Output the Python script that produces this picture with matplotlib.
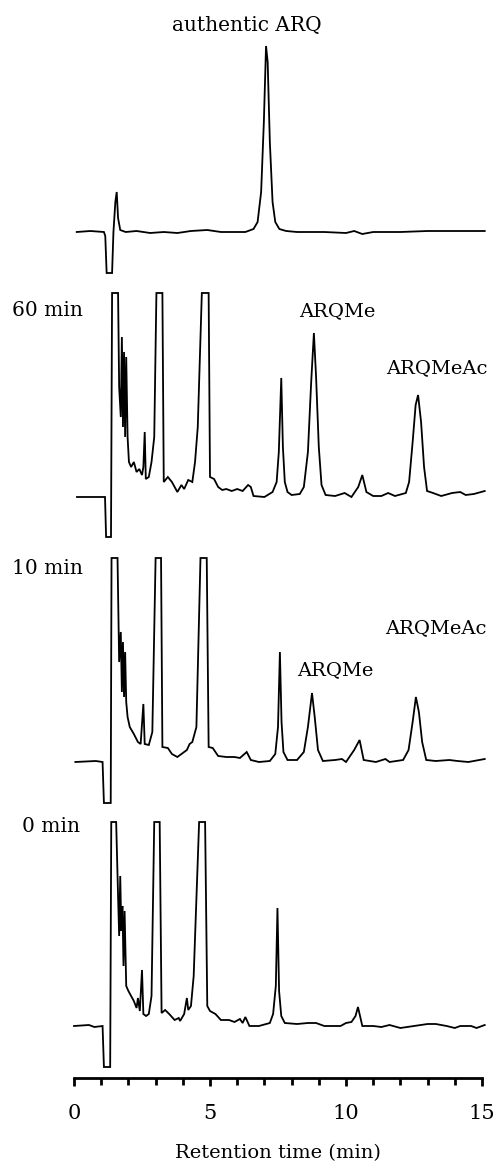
import matplotlib
matplotlib.use("Agg")
import matplotlib.pyplot as plt
from matplotlib.ticker import MultipleLocator

plt.rcParams["font.family"] = ["DejaVu Serif"]

# --- data: retention time (min) and detector response (arb. units) ---
t_arq = [0.1, 0.6, 1.1, 1.15, 1.2, 1.4, 1.45, 1.52, 1.57, 1.62, 1.7, 1.9, 2.3, 2.8, 3.3, 3.8,
         4.3, 4.9, 5.4, 6.3, 6.6, 6.75, 6.88, 6.98, 7.06, 7.12, 7.2, 7.3, 7.4, 7.55, 7.8,
         8.2, 9.2, 10.0, 10.3, 10.6, 11.0, 12.0, 13.0, 14.0, 15.1]
y_arq = [0, 1, 0, -4, -41, -41, 0, 30, 40, 14, 2, 0, 1, -1, 0, -1,
         1, 2, 0, 0, 3, 10, 40, 110, 186, 170, 90, 30, 10, 3, 1,
         0, 0, -1, 1, -2, 0, 0, 1, 1, 1]

t_60 = [0.11, 1.14, 1.18, 1.36, 1.40, 1.62, 1.66, 1.72, 1.76, 1.80, 1.84, 1.88, 1.92, 1.97,
        2.02, 2.1, 2.2, 2.3, 2.4, 2.5, 2.55, 2.6, 2.64, 2.75, 2.85, 2.95, 3.03, 3.25, 3.3,
        3.45, 3.6, 3.8, 3.95, 4.05, 4.2, 4.35, 4.45, 4.55, 4.7, 4.95, 5.0, 5.15, 5.3, 5.45,
        5.6, 5.8, 6.0, 6.2, 6.4, 6.5, 6.6, 7.0, 7.3, 7.45, 7.53, 7.62, 7.68, 7.75, 7.85,
        8.0, 8.3, 8.45, 8.6, 8.72, 8.82, 8.9, 9.0, 9.1, 9.25, 9.6, 9.95, 10.2, 10.45, 10.6,
        10.75, 11.0, 11.3, 11.55, 11.8, 12.2, 12.32, 12.45, 12.56, 12.65, 12.76, 12.87,
        12.98, 13.2, 13.5, 13.9, 14.2, 14.4, 14.7, 15.1]
y_60 = [0, 0, -40, -40, 204, 204, 110, 80, 160, 70, 145, 60, 140, 60,
        35, 30, 35, 25, 28, 22, 30, 65, 18, 20, 35, 60, 204, 204, 15,
        20, 15, 5, 12, 8, 17, 15, 35, 70, 204, 204, 20, 18, 10, 7,
        8, 6, 8, 6, 12, 10, 1, 0, 5, 15, 45, 119, 50, 15, 5,
        2, 3, 10, 45, 115, 164, 120, 50, 12, 2, 1, 4, 0, 10, 22,
        5, 1, 1, 4, 1, 4, 15, 55, 92, 102, 75, 30,
        6, 4, 1, 4, 5, 2, 3, 6]

t_10 = [0.05, 0.8, 1.05, 1.1, 1.35, 1.38, 1.6, 1.66, 1.72, 1.76, 1.8, 1.84, 1.88, 1.92,
        1.97, 2.05, 2.2, 2.35, 2.45, 2.55, 2.6, 2.75, 2.88, 3.0, 3.2, 3.25, 3.45, 3.6,
        3.8, 3.95, 4.15, 4.25, 4.35, 4.5, 4.65, 4.88, 4.95, 5.1, 5.3, 5.6, 5.9, 6.1, 6.35,
        6.5, 6.8, 7.2, 7.4, 7.5, 7.57, 7.63, 7.7, 7.85, 8.2, 8.45, 8.6, 8.75, 8.85, 8.97,
        9.15, 9.6, 9.85, 10.0, 10.3, 10.5, 10.65, 11.1, 11.45, 11.6, 12.1, 12.3, 12.45,
        12.57, 12.68, 12.8, 12.95, 13.3, 13.8, 14.1, 14.5, 14.9, 15.1]
y_10 = [0, 1, 0, -41, -41, 204, 204, 100, 130, 70, 120, 65, 110, 60,
        45, 35, 28, 20, 18, 58, 18, 17, 30, 204, 204, 15, 14, 8,
        5, 8, 12, 18, 20, 35, 204, 204, 15, 14, 6, 5, 5, 4, 10,
        2, 0, 1, 8, 35, 110, 40, 10, 2, 2, 10, 35, 69, 45, 12,
        1, 2, 3, 0, 12, 22, 2, 0, 3, 0, 2, 12, 40,
        65, 50, 20, 2, 1, 2, 1, 0, 2, 3]

t_0 = [0.0, 0.55, 0.75, 1.05, 1.1, 1.33, 1.37, 1.55, 1.62, 1.66, 1.70, 1.74, 1.78, 1.82,
       1.86, 1.92, 2.0, 2.1, 2.2, 2.3, 2.35, 2.42, 2.5, 2.55, 2.65, 2.75, 2.85, 2.95, 3.15,
       3.22, 3.35, 3.5, 3.7, 3.85, 3.9, 4.05, 4.15, 4.2, 4.3, 4.4, 4.6, 4.82, 4.9, 5.0,
       5.2, 5.4, 5.7, 5.9, 6.1, 6.2, 6.3, 6.45, 6.8, 7.2, 7.32, 7.42, 7.48, 7.54, 7.62,
       7.75, 8.2, 8.6, 8.9, 9.2, 9.8, 10.0, 10.2, 10.35, 10.44, 10.6, 11.0, 11.3, 11.6,
       12.0, 12.5, 13.0, 13.3, 13.7, 14.0, 14.2, 14.6, 14.8, 15.1]
y_0 = [0, 1, -1, 0, -41, -41, 204, 204, 130, 90, 150, 95, 120, 60,
       115, 40, 35, 30, 25, 18, 28, 15, 56, 12, 10, 12, 30, 204, 204,
       13, 16, 12, 6, 8, 5, 12, 28, 16, 20, 50, 204, 204, 20, 15,
       12, 6, 6, 4, 7, 3, 9, 0, 0, 3, 12, 40, 118, 35, 10,
       3, 2, 3, 3, 0, 0, 3, 4, 10, 19, 0, 0, -1, 1,
       -2, 0, 2, 2, 0, -2, 0, 0, -2, 1]

sample_labels = ["authentic ARQ", "60 min", "10 min", "0 min"]
x_ticks = [0, 5, 10, 15]

# vertical stacking of the traces
offsets = [846, 581, 316, 52]

fig = plt.figure(figsize=(4.96, 11.62), dpi=100)
ax = fig.add_axes([74 / 496, 84 / 1162, 408 / 496, 1058 / 1162])

traces = [(t_arq, y_arq), (t_60, y_60), (t_10, y_10), (t_0, y_0)]
for (t, y), off in zip(traces, offsets):
    ax.plot(t, [v + off for v in y], color="black", lw=1.3, clip_on=False,
            solid_joinstyle="miter")

ax.set_xlim(0, 15)
ax.set_ylim(0, 1058)

# sample labels
ax.text(6.36, 1053, sample_labels[0], ha="center", va="center", fontsize=14.5)
ax.text(-2.28, 768, sample_labels[1], ha="left", va="center", fontsize=14.5)
ax.text(-2.28, 510, sample_labels[2], ha="left", va="center", fontsize=14.5)
ax.text(-1.9, 251, sample_labels[3], ha="left", va="center", fontsize=14.5)

# peak labels
ax.text(9.67, 767, "ARQMe", ha="center", va="center", fontsize=14)
ax.text(13.35, 710, "ARQMeAc", ha="center", va="center", fontsize=14)
ax.text(9.6, 408, "ARQMe", ha="center", va="center", fontsize=14)
ax.text(13.3, 450, "ARQMeAc", ha="center", va="center", fontsize=14)

# only the time scale at the bottom
for side in ["left", "right", "top"]:
    ax.spines[side].set_visible(False)
ax.spines["bottom"].set_linewidth(2)
ax.set_yticks([])
ax.set_xticks(x_ticks)
ax.xaxis.set_minor_locator(MultipleLocator(1))
ax.tick_params(axis="x", which="major", direction="out", length=6, width=2,
               labelsize=15, pad=13)
ax.tick_params(axis="x", which="minor", direction="out", length=5, width=2)
ax.set_xlabel("Retention time (min)", fontsize=14, labelpad=15)

fig.savefig("out.png", dpi=100)
